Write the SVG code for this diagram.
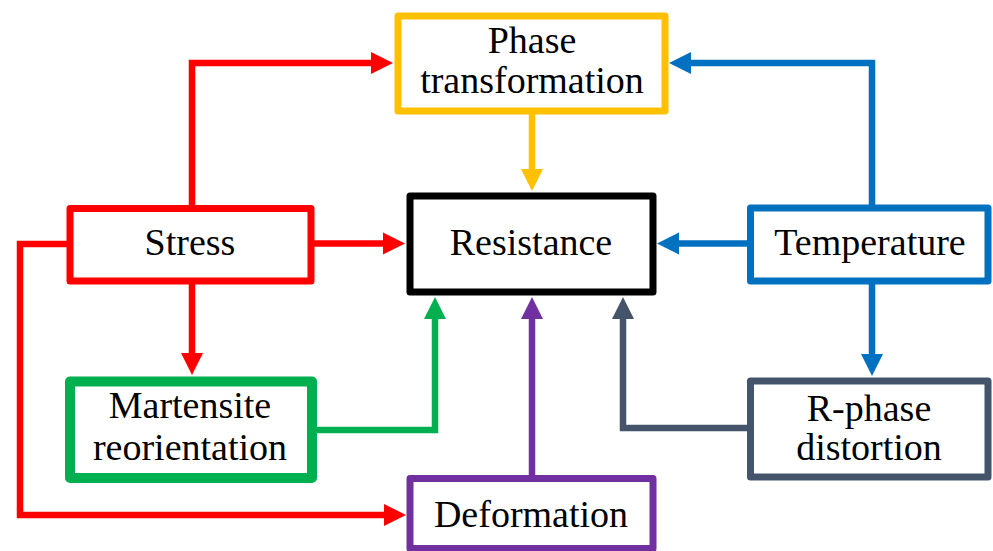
<svg xmlns="http://www.w3.org/2000/svg" width="993" height="551" viewBox="0 0 993 551">
<style>
.box{fill:#fff;stroke-width:7;stroke-linejoin:round}
.lbl{font-family:"Liberation Serif","Times New Roman",serif;font-size:38px;fill:#000;text-anchor:middle}
.c{fill:none;stroke-width:6.5;stroke-linejoin:miter}
</style>
<defs>
<marker id="aR" markerUnits="userSpaceOnUse" markerWidth="24" markerHeight="24" viewBox="0 -12 24 24" refX="1" refY="0" orient="auto"><path d="M0,-11 L22,0 L0,11 z" fill="#FF0000"/></marker>
<marker id="aY" markerUnits="userSpaceOnUse" markerWidth="24" markerHeight="24" viewBox="0 -12 24 24" refX="1" refY="0" orient="auto"><path d="M0,-11 L22,0 L0,11 z" fill="#FFC000"/></marker>
<marker id="aB" markerUnits="userSpaceOnUse" markerWidth="24" markerHeight="24" viewBox="0 -12 24 24" refX="1" refY="0" orient="auto"><path d="M0,-11 L22,0 L0,11 z" fill="#0070C0"/></marker>
<marker id="aG" markerUnits="userSpaceOnUse" markerWidth="24" markerHeight="24" viewBox="0 -12 24 24" refX="1" refY="0" orient="auto"><path d="M0,-11 L22,0 L0,11 z" fill="#00B050"/></marker>
<marker id="aP" markerUnits="userSpaceOnUse" markerWidth="24" markerHeight="24" viewBox="0 -12 24 24" refX="1" refY="0" orient="auto"><path d="M0,-11 L22,0 L0,11 z" fill="#7030A0"/></marker>
<marker id="aS" markerUnits="userSpaceOnUse" markerWidth="24" markerHeight="24" viewBox="0 -12 24 24" refX="1" refY="0" orient="auto"><path d="M0,-11 L22,0 L0,11 z" fill="#44546A"/></marker>
</defs>
<rect width="993" height="551" fill="#fff"/>
<g id="connectors">
<path class="c" stroke="#FF0000" marker-end="url(#aR)" d="M192,208 V63 H372"/>
<path class="c" stroke="#FF0000" marker-end="url(#aR)" d="M311,243.5 H384"/>
<path class="c" stroke="#FF0000" marker-end="url(#aR)" d="M192,281 V354"/>
<path class="c" stroke="#FF0000" marker-end="url(#aR)" d="M70,244 H20 V515 H385"/>
<path class="c" stroke="#FFC000" marker-end="url(#aY)" d="M532,111 V170"/>
<path class="c" stroke="#0070C0" marker-end="url(#aB)" d="M872,208 V63 H690"/>
<path class="c" stroke="#0070C0" marker-end="url(#aB)" d="M750,243.5 H678"/>
<path class="c" stroke="#0070C0" marker-end="url(#aB)" d="M872,281 V355"/>
<path class="c" stroke="#00B050" marker-end="url(#aG)" d="M312,430 H435 V318"/>
<path class="c" stroke="#7030A0" marker-end="url(#aP)" d="M532,478 V318"/>
<path class="c" stroke="#44546A" marker-end="url(#aS)" d="M750,428 H623 V318"/>
</g>
<g id="phase">
<rect class="box" stroke="#FFC000" x="398" y="16" width="267" height="95"/>
<text class="lbl" x="532" y="53">Phase</text>
<text class="lbl" x="532" y="93">transformation</text>
</g>
<g id="resistance">
<rect class="box" stroke="#000" x="410" y="196" width="243" height="96"/>
<text class="lbl" x="531" y="255">Resistance</text>
</g>
<g id="stress">
<rect class="box" stroke="#FF0000" x="70" y="208.5" width="241" height="72.5"/>
<text class="lbl" x="190" y="255">Stress</text>
</g>
<g id="temperature">
<rect class="box" stroke="#0070C0" x="750.5" y="208" width="237.5" height="73"/>
<text class="lbl" x="870" y="255">Temperature</text>
</g>
<g id="martensite">
<rect class="box" stroke="#00B050" x="70" y="381.5" width="242" height="96.5" style="stroke-width:10"/>
<text class="lbl" x="190" y="418">Martensite</text>
<text class="lbl" x="190" y="460">reorientation</text>
</g>
<g id="rphase">
<rect class="box" stroke="#44546A" x="750.5" y="381" width="237.5" height="96"/>
<text class="lbl" x="869" y="421">R-phase</text>
<text class="lbl" x="869" y="460">distortion</text>
</g>
<g id="deformation">
<rect class="box" stroke="#7030A0" x="410" y="478.5" width="243" height="70"/>
<text class="lbl" x="531" y="527">Deformation</text>
</g>
</svg>
